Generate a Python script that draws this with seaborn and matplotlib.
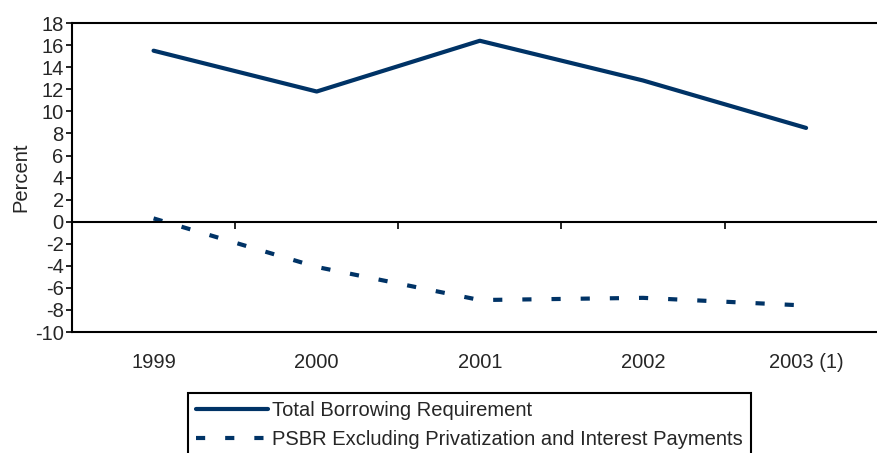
import matplotlib
matplotlib.use('Agg')
import matplotlib.pyplot as plt
import seaborn as sns
import pandas as pd

years = ['1999', '2000', '2001', '2002', '2003 (1)']
total_borrowing = [15.5, 11.8, 16.4, 12.8, 8.5]
psbr_excl = [0.3, -4.1, -7.1, -6.9, -7.6]

NAVY = '#003366'

sns.set_theme(style='white')
plt.rcParams['font.family'] = ['Liberation Sans', 'DejaVu Sans']
plt.rcParams['axes.unicode_minus'] = False

df = pd.DataFrame({'pos': range(len(years)), 'year': years,
                   'total': total_borrowing, 'psbr': psbr_excl})

fig = plt.figure(figsize=(8.78, 4.53), dpi=100)
ax = fig.add_axes([0.082, 0.267, 0.929, 0.682])

sns.lineplot(data=df, x='pos', y='total', ax=ax, color=NAVY, lw=3,
             label='Total Borrowing Requirement', legend=False)
sns.lineplot(data=df, x='pos', y='psbr', ax=ax, color=NAVY, lw=3,
             label='PSBR Excluding Privatization and Interest Payments', legend=False)
ax.lines[1].set_dashes([2.2, 4.8])

ax.set_xlim(-0.5, 4.5)
ax.set_ylim(-10, 18)
ax.set_yticks(range(-10, 19, 2))
ax.tick_params(axis='y', labelsize=14.5, length=4.5, width=1.2, color='black',
               direction='out', left=True, pad=1.5)
ax.set_ylabel('Percent', fontsize=14.5, labelpad=3)
ax.set_xlabel('')

# zero line with ticks at category boundaries
ax.spines['bottom'].set_position(('data', 0))
ax.set_xticks([0.5, 1.5, 2.5, 3.5])
ax.set_xticklabels([])
ax.tick_params(axis='x', length=5, width=1.2, color='black', direction='out', bottom=True)

for s in ['left', 'top', 'right', 'bottom']:
    ax.spines[s].set_color('black')
    ax.spines[s].set_linewidth(1.5)
    ax.spines[s].set_visible(True)

sec = ax.secondary_xaxis('bottom')
sec.set_xticks(range(len(years)), labels=years)
sec.tick_params(length=0, labelsize=14.5, pad=15)
sec.spines['bottom'].set_linewidth(1.5)
sec.spines['bottom'].set_color('black')

handles, labels = ax.get_legend_handles_labels()
leg = fig.legend(handles, labels, loc='upper left', bbox_to_anchor=(0.214, 0.132),
                 frameon=True, fancybox=False, edgecolor='black', framealpha=1,
                 fontsize=14.5, handlelength=3.6, handletextpad=0.2, borderpad=0.4,
                 labelspacing=0.5, borderaxespad=0)
leg.get_frame().set_linewidth(1.5)

fig.savefig('out.png', dpi=100)
